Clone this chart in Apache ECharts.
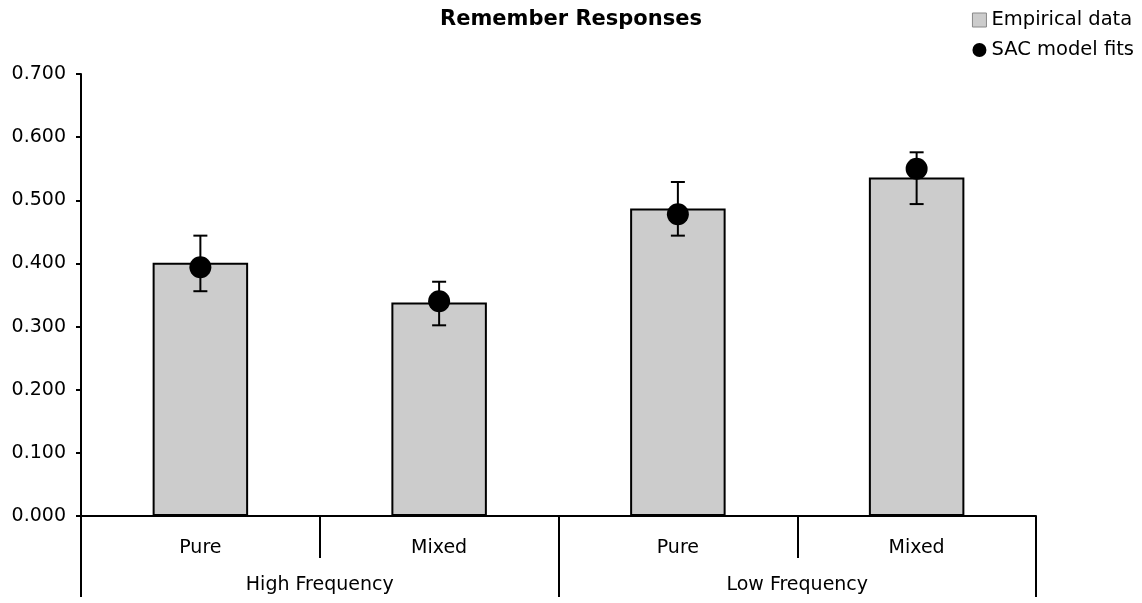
<!DOCTYPE html>
<html>
<head>
<meta charset="utf-8">
<script src="https://cdn.jsdelivr.net/npm/echarts@6/dist/echarts.min.js"></script>
<style>html,body{margin:0;padding:0;background:#fff}#c{width:1142px;height:603px}</style>
</head>
<body>
<div id="c"></div>
<script>
var conditions = ['Pure', 'Mixed', 'Pure', 'Mixed'];
var groups = ['High Frequency', 'Low Frequency'];
var empirical = [0.401, 0.338, 0.487, 0.536];
var errLow = [0.356, 0.302, 0.444, 0.494];
var errHigh = [0.444, 0.371, 0.529, 0.576];
var sacFits = [0.394, 0.340, 0.478, 0.550];

var FONT = 'DejaVu Sans';
var FS = 19;
var chart = echarts.init(document.getElementById('c'));
var errData = empirical.map(function (v, i) { return [i, errLow[i], errHigh[i]]; });

chart.setOption({
  animation: false,
  textStyle: { fontFamily: FONT, color: '#000' },
  title: {
    text: 'Remember Responses', left: 'center', top: 4,
    textStyle: { fontFamily: FONT, fontSize: 21, fontWeight: 'bold', color: '#000' }
  },
  legend: {
    orient: 'vertical', right: 3, top: 4, itemGap: 8, itemWidth: 14, itemHeight: 14,
    textStyle: { fontFamily: FONT, fontSize: 19.5, color: '#000', lineHeight: 22 },
    data: [
      { name: 'Empirical data', icon: 'rect', itemStyle: { borderColor: '#888', borderWidth: 1 } },
      { name: 'SAC model fits', icon: 'circle' }
    ]
  },
  grid: { left: 81, right: 106, top: 74, bottom: 87 },
  xAxis: [{
    type: 'category', data: conditions, boundaryGap: true,
    axisLine: { show: true, lineStyle: { color: '#000', width: 2 } },
    axisTick: { show: true, interval: 0, length: 42, lineStyle: { color: '#000', width: 2 } },
    axisLabel: { fontFamily: FONT, fontSize: FS, color: '#000', margin: 23 }
  }, {
    type: 'category', data: groups, boundaryGap: true, position: 'bottom',
    axisLine: { show: false },
    axisTick: { show: true, interval: 0, length: 81, lineStyle: { color: '#000', width: 2 } },
    axisLabel: { fontFamily: FONT, fontSize: FS, color: '#000', margin: 60 }
  }],
  yAxis: {
    type: 'value', min: 0, max: 0.7, interval: 0.1,
    splitLine: { show: false },
    axisLine: { show: true, lineStyle: { color: '#000', width: 2 } },
    axisTick: { show: true, length: 5, lineStyle: { color: '#000', width: 2 } },
    axisLabel: { fontFamily: FONT, fontSize: FS, color: '#000', margin: 15,
      formatter: function (v) { return v.toFixed(3); } }
  },
  series: [{
    name: 'Empirical data', type: 'bar', data: empirical, barWidth: '40%',
    itemStyle: { color: '#cccccc', borderColor: '#000', borderWidth: 2 }
  }, {
    name: 'errors', type: 'custom', data: errData, z: 5,
    renderItem: function (params, api) {
      var lo = api.coord([api.value(0), api.value(1)]);
      var hi = api.coord([api.value(0), api.value(2)]);
      var hw = 7;
      var st = { stroke: '#000', lineWidth: 2 };
      return { type: 'group', children: [
        { type: 'line', shape: { x1: hi[0], y1: hi[1], x2: lo[0], y2: lo[1] }, style: st },
        { type: 'line', shape: { x1: hi[0] - hw, y1: hi[1], x2: hi[0] + hw, y2: hi[1] }, style: st },
        { type: 'line', shape: { x1: lo[0] - hw, y1: lo[1], x2: lo[0] + hw, y2: lo[1] }, style: st }
      ]};
    }
  }, {
    name: 'SAC model fits', type: 'scatter', data: sacFits, symbol: 'circle', symbolSize: 22, z: 10,
    itemStyle: { color: '#000', opacity: 1 }
  }]
});
</script>
</body>
</html>
